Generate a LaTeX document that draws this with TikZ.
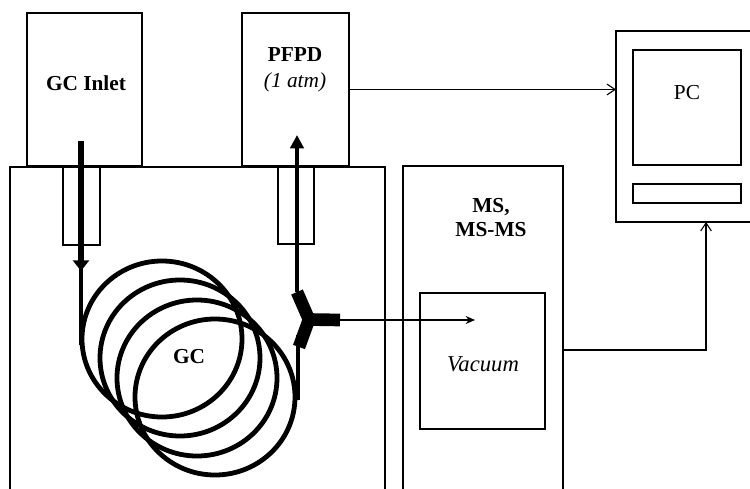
\documentclass[tikz,border=0pt]{standalone}
\usepackage{fontspec}
\setmainfont{Liberation Serif}
\usetikzlibrary{arrows.meta}

\tikzset{
  unit/.style={draw, line width=1.5pt, inner sep=0pt, outer sep=0pt, anchor=north west},
  wh/.style 2 args={minimum width=#1*.75pt, minimum height=#2*.75pt},
  lbl/.style={font=\fontsize{16}{18}\selectfont, align=center, inner sep=0pt},
  signal/.style={line width=.8pt},
  column/.style={line width=3.2pt},
  coil/.style={line width=3.6pt},
  arm/.style={line width=9.5pt},
}

\begin{document}
\begin{tikzpicture}[x=.75pt,y=-.75pt]
  \useasboundingbox (0,0) rectangle (750,489);
  \clip (0,0) rectangle (750,489);

  \node (inlet) [unit, wh={115}{153}] at (27,13) {};
  \node (pfpd) [unit, wh={107}{153}] at (242,13) {};
  \node (gcbox) [unit, wh={375}{340}] at (10,167) {};
  \node (ms) [unit, wh={160}{340}] at (403,166) {};
  \node (vacuum) [unit, wh={125}{136}] at (420,293) {};
  \node (pccase) [unit, wh={180}{191}] at (616,31) {};
  \node (screen) [unit, wh={108}{115}] at (633,50) {};
  \node (slot) [unit, wh={108}{19}] at (633,184) {};
  \node (insleeve) [unit, wh={37}{78}] at (63,167) {};
  \node (outsleeve) [unit, wh={36}{77}] at (278,167) {};

  \node (inletlbl) [lbl] at (86,83) {\textbf{GC Inlet}};
  \node (pfpdlbl) [lbl] at (295,55) {\textbf{PFPD}};
  \node (atmlbl) [lbl] at (295,82) {\textit{(1 atm)}};
  \node (mslbl) [lbl, text depth=0pt] at (491,217) {\textbf{MS,}\\\textbf{MS-MS}};
  \node (vaclbl) [lbl, font=\fontsize{17}{18}\selectfont] at (483,364) {\textit{Vacuum}};
  \node (gclbl) [lbl] at (189,357) {\textbf{GC}};
  \node (pclbl) [lbl] at (687,93) {PC};

  % column coils
  \foreach \cx/\cy in {162/339, 180/358, 197/378, 215/397}
    \draw[coil] (\cx,\cy) ellipse (80 and 78);

  \coordinate (injtop) at (81,141);
  \coordinate (injbase) at (81,259);
  \coordinate (injtip) at (81,271);
  \coordinate (injend) at (81,345);
  \coordinate (dettip) at (297,135);
  \coordinate (detend) at (297,292);
  \coordinate (coiltop) at (298,335);
  \coordinate (coilend) at (298,400);
  \coordinate (joint) at (309,319.5);
  \coordinate (armup) at (297,292);
  \coordinate (armdown) at (299,347);
  \coordinate (armright) at (340,320);
  \coordinate (vacin) at (475,320);
  \coordinate (msout) at (ms.east |- 0,350);

  \draw[column, line width=4pt, -{Triangle[length=8pt,width=12pt]}] (injtop) -- (injtip);
  \draw[column] (injbase) -- (injend);
  \draw[column, -{Triangle[length=10pt,width=10pt]}] (detend) -- (dettip);
  \draw[column] (coiltop) -- (coilend);
  \draw[arm, line join=miter] (armup) -- (joint) -- (armdown);
  \draw[arm] (joint) -- (armright);

  \draw[signal, -{Straight Barb[length=6pt,width=8pt]}] (pfpd.east) -- (pfpd.east -| pccase.west);
  \draw[signal, -{Stealth[length=7pt,width=6pt]}] (armright) -- (vacin);
  \draw[signal, -{Straight Barb[length=6pt,width=8pt]}] (msout) -| (pccase.south);
\end{tikzpicture}
\end{document}
